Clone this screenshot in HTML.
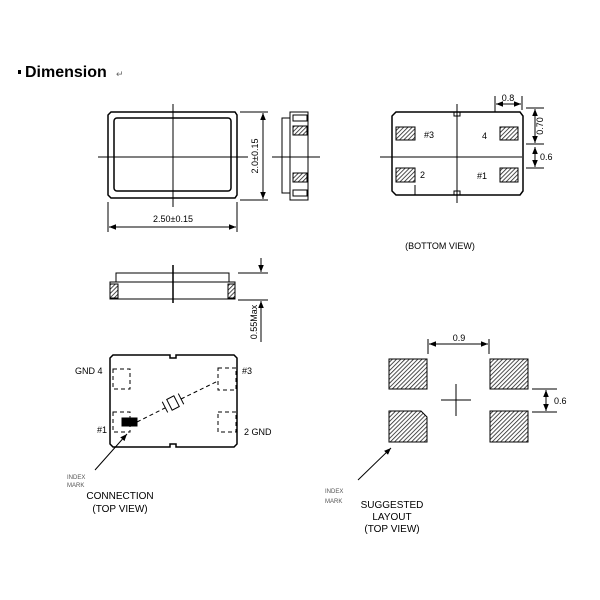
<!DOCTYPE html>
<html><head><style>body{margin:0;background:#fff}svg{display:block}</style></head><body>
<svg width="600" height="600" viewBox="0 0 600 600" xmlns="http://www.w3.org/2000/svg" font-family="Liberation Sans, Arial, sans-serif">
<defs>
<pattern id="h" patternUnits="userSpaceOnUse" width="3" height="3" patternTransform="rotate(45)"><rect width="3" height="3" fill="#fff"/><line x1="0" y1="0" x2="0" y2="3" stroke="#222" stroke-width="1.6"/></pattern>
<marker id="a" viewBox="0 0 10 10" refX="10" refY="5" markerWidth="7" markerHeight="7" orient="auto-start-reverse"><path d="M0,1 L10,5 L0,9z" fill="#000"/></marker>
</defs>
<rect x="18" y="70" width="3" height="4" fill="#000"/>
<text x="25" y="77" font-size="16" font-weight="bold">Dimension</text>
<text x="116" y="77" font-size="9" fill="#666">↵</text>
<g stroke="#000" fill="none" stroke-width="1">
<!-- top view -->
<path d="M111,112 H235 L237,115 V195 L235,198 H111 L108,195 V115z" stroke-width="1.5"/>
<rect x="114" y="118" width="117" height="73" rx="3" stroke-width="1.5"/>
<line x1="173" y1="104" x2="173" y2="207"/>
<line x1="98" y1="157" x2="248" y2="157"/>
<line x1="240" y1="112" x2="268" y2="112"/><line x1="240" y1="200" x2="268" y2="200"/>
<line x1="263" y1="113" x2="263" y2="199" marker-start="url(#a)" marker-end="url(#a)"/>
<line x1="108" y1="202" x2="108" y2="232"/><line x1="237" y1="202" x2="237" y2="232"/>
<line x1="109" y1="227" x2="236" y2="227" marker-start="url(#a)" marker-end="url(#a)"/>
<!-- side right -->
<rect x="290" y="112" width="18" height="88"/>
<path d="M290,118 H282 V193 H290"/>
<rect x="293" y="115" width="14" height="6"/><rect x="293" y="190" width="14" height="6"/>
<rect x="293" y="126" width="14" height="9" fill="url(#h)"/><rect x="293" y="173" width="14" height="9" fill="url(#h)"/>
<line x1="272" y1="157" x2="320" y2="157"/>
<!-- bottom view -->
<path d="M396,112 H520 L523,116 V191 L520,195 H396 L392,191 V116z" stroke-width="1.5"/>
<line x1="457" y1="104" x2="457" y2="203"/><line x1="380" y1="157" x2="522" y2="157"/>
<rect x="454" y="112" width="6" height="4"/><rect x="454" y="191" width="6" height="4"/>
<rect x="396" y="127" width="19" height="13" fill="url(#h)"/><rect x="396" y="168" width="19" height="14" fill="url(#h)"/>
<rect x="500" y="127" width="18" height="13" fill="url(#h)"/><rect x="500" y="168" width="18" height="14" fill="url(#h)"/>
<line x1="415" y1="185" x2="415" y2="195"/>
<line x1="495" y1="96" x2="495" y2="112"/><line x1="522" y1="96" x2="522" y2="110"/>
<line x1="496" y1="104" x2="521" y2="104" marker-start="url(#a)" marker-end="url(#a)"/>
<line x1="526" y1="108" x2="544" y2="108"/><line x1="526" y1="144" x2="544" y2="144"/><line x1="526" y1="168" x2="544" y2="168"/>
<line x1="535" y1="109" x2="535" y2="143" marker-start="url(#a)" marker-end="url(#a)"/>
<line x1="535" y1="147" x2="535" y2="167" marker-start="url(#a)" marker-end="url(#a)"/>
<!-- side view 2 -->
<path d="M116,282 V273 H229 V282"/>
<rect x="110" y="282" width="125" height="17"/>
<rect x="110" y="284" width="8" height="14" fill="url(#h)"/><rect x="228" y="284" width="7" height="14" fill="url(#h)"/>
<line x1="173" y1="265" x2="173" y2="303" stroke-width="1.5"/>
<line x1="238" y1="273" x2="268" y2="273"/><line x1="238" y1="300" x2="268" y2="300"/>
<line x1="261" y1="258" x2="261" y2="272" marker-end="url(#a)"/>
<line x1="261" y1="342" x2="261" y2="301" marker-end="url(#a)"/>
<!-- connection -->
<path d="M113,355 H170 V358 H176 V355 H234 L237,358 V444 L234,447 H176 V444 H170 V447 H113 L110,444 V358z" stroke-width="1.5"/>
<g stroke-dasharray="4,3">
<rect x="113" y="369" width="17" height="20"/><rect x="113" y="412" width="17" height="20"/>
<rect x="218" y="368" width="18" height="22"/><rect x="218" y="412" width="18" height="20"/>
<line x1="137" y1="422" x2="165" y2="408"/><line x1="181" y1="399" x2="218" y2="381"/>
</g>
<g transform="rotate(-27 173 403)"><rect x="169" y="397" width="8" height="12"/><line x1="164" y1="397" x2="164" y2="409"/><line x1="182" y1="397" x2="182" y2="409"/></g>
<rect x="122" y="418" width="15" height="8" fill="#000"/>
<line x1="95" y1="470" x2="127" y2="434" marker-end="url(#a)"/>
<!-- layout -->
<rect x="389" y="359" width="38" height="30" fill="url(#h)"/><rect x="490" y="359" width="38" height="30" fill="url(#h)"/>
<path d="M389,411 H421 L427,417 V442 H389z" fill="url(#h)"/><rect x="490" y="411" width="38" height="31" fill="url(#h)"/>
<line x1="441" y1="400" x2="471" y2="400"/><line x1="456" y1="384" x2="456" y2="416"/>
<line x1="428" y1="339" x2="428" y2="354"/><line x1="489" y1="339" x2="489" y2="354"/>
<line x1="429" y1="344" x2="488" y2="344" marker-start="url(#a)" marker-end="url(#a)"/>
<line x1="532" y1="389" x2="557" y2="389"/><line x1="532" y1="412" x2="557" y2="412"/>
<line x1="546" y1="390" x2="546" y2="411" marker-start="url(#a)" marker-end="url(#a)"/>
<line x1="358" y1="480" x2="391" y2="448" marker-end="url(#a)"/>
</g>
<g font-size="9" fill="#000">
<text x="173" y="222" text-anchor="middle">2.50±0.15</text>
<text transform="translate(258,156) rotate(-90)" text-anchor="middle">2.0±0.15</text>
<text x="424" y="138">#3</text><text x="482" y="139">4</text>
<text x="420" y="178">2</text><text x="477" y="179">#1</text>
<text x="508" y="101" text-anchor="middle">0.8</text>
<text transform="translate(543,126) rotate(-90)" text-anchor="middle">0.70</text>
<text x="540" y="160">0.6</text>
<text x="440" y="249" text-anchor="middle">(BOTTOM VIEW)</text>
<text transform="translate(257,322) rotate(-90)" text-anchor="middle">0.55Max</text>
<text x="75" y="374">GND 4</text><text x="242" y="374">#3</text>
<text x="97" y="433">#1</text><text x="244" y="435">2 GND</text>
<text x="120" y="499" text-anchor="middle" font-size="10">CONNECTION</text>
<text x="120" y="512" text-anchor="middle" font-size="10">(TOP VIEW)</text>
<text x="459" y="341" text-anchor="middle">0.9</text>
<text x="554" y="404">0.6</text>
<text x="392" y="508" text-anchor="middle" font-size="10">SUGGESTED</text>
<text x="392" y="520" text-anchor="middle" font-size="10">LAYOUT</text>
<text x="392" y="532" text-anchor="middle" font-size="10">(TOP VIEW)</text>
</g>
<g font-size="6" fill="#555">
<text x="67" y="479">INDEX</text><text x="67" y="487">MARK</text>
<text x="325" y="493">INDEX</text><text x="325" y="503">MARK</text>
</g>
</svg>
</body></html>
